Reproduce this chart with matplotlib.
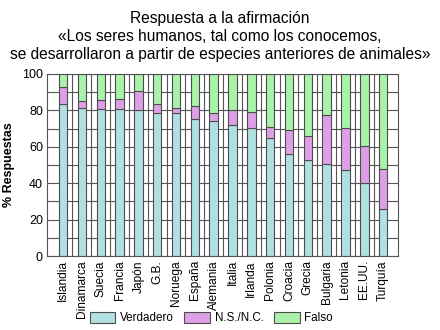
import matplotlib
matplotlib.use("Agg")
import matplotlib.pyplot as plt
import numpy as np

plt.rcParams["font.family"] = ["Liberation Sans", "DejaVu Sans"]

paises = ["Islandia", "Dinamarca", "Suecia", "Francia", "Japón", "G.B.",
          "Noruega", "España", "Alemania", "Italia", "Irlanda", "Polonia",
          "Croacia", "Grecia", "Bulgaria", "Letonia", "EE.UU.", "Turquía"]
verdadero = [83.5, 81.5, 81, 80.5, 80, 78.5, 78.5, 75.5, 74, 72, 70.5, 65,
             56, 53, 50.5, 47, 40, 26]
nsnc = [9.5, 3.5, 4.5, 5.5, 10.5, 5, 3, 7, 4.5, 8, 8.5, 6, 13, 13, 27, 23.5,
        20.5, 22]
falso = [100 - v - n for v, n in zip(verdadero, nsnc)]

fig = plt.figure(figsize=(4.4, 3.3), dpi=100)
ax = fig.add_axes([0.107, 0.224, 0.798, 0.552])

x = np.arange(len(paises))
w = 0.45
borde = "#4d4d4d"
ax.bar(x, verdadero, w, color="#b0e0e2", edgecolor=borde, linewidth=0.8,
       label="Verdadero", zorder=3)
ax.bar(x, nsnc, w, bottom=verdadero, color="#dda0e6", edgecolor=borde,
       linewidth=0.8, label="N.S./N.C.", zorder=3)
abajo = [v + n for v, n in zip(verdadero, nsnc)]
ax.bar(x, falso, w, bottom=abajo, color="#aaf2aa", edgecolor=borde,
       linewidth=0.8, label="Falso", zorder=3)

ax.set_xlim(-0.85, len(paises) - 0.2)
ax.set_ylim(0, 100)
ax.set_yticks(np.arange(0, 101, 20))
ax.set_yticks(np.arange(0, 101, 10), minor=True)
ax.set_xticks(x)
ax.set_xticklabels(paises, rotation=90, fontsize=8.6)
ax.set_xticks(x[:-1] + 0.5, minor=True)
ax.tick_params(axis="x", which="both", length=0, pad=3)
ax.tick_params(axis="y", which="both", length=0, labelsize=9, pad=3)
ax.grid(True, which="minor", color="#555555", linewidth=0.8, zorder=0)
ax.grid(True, which="major", axis="y", color="#555555", linewidth=0.8, zorder=0)
for s in ax.spines.values():
    s.set_color("#555555")
    s.set_linewidth(0.8)

ax.set_ylabel("% Respuestas", fontsize=9, fontweight="bold", labelpad=5)

fig.text(0.5, 0.968, "Respuesta a la afirmación\n"
         "«Los seres humanos, tal como los conocemos,\n"
         "se desarrollaron a partir de especies anteriores de animales»",
         ha="center", va="top", fontsize=11.2, linespacing=1.25)

fig.legend(loc="center", bbox_to_anchor=(0.48, 0.036), ncol=3,
           frameon=False, fontsize=8.4, handlelength=2.2, handleheight=1.1,
           columnspacing=0.9, handletextpad=0.4, borderpad=0)

fig.savefig("out.png", dpi=100)
